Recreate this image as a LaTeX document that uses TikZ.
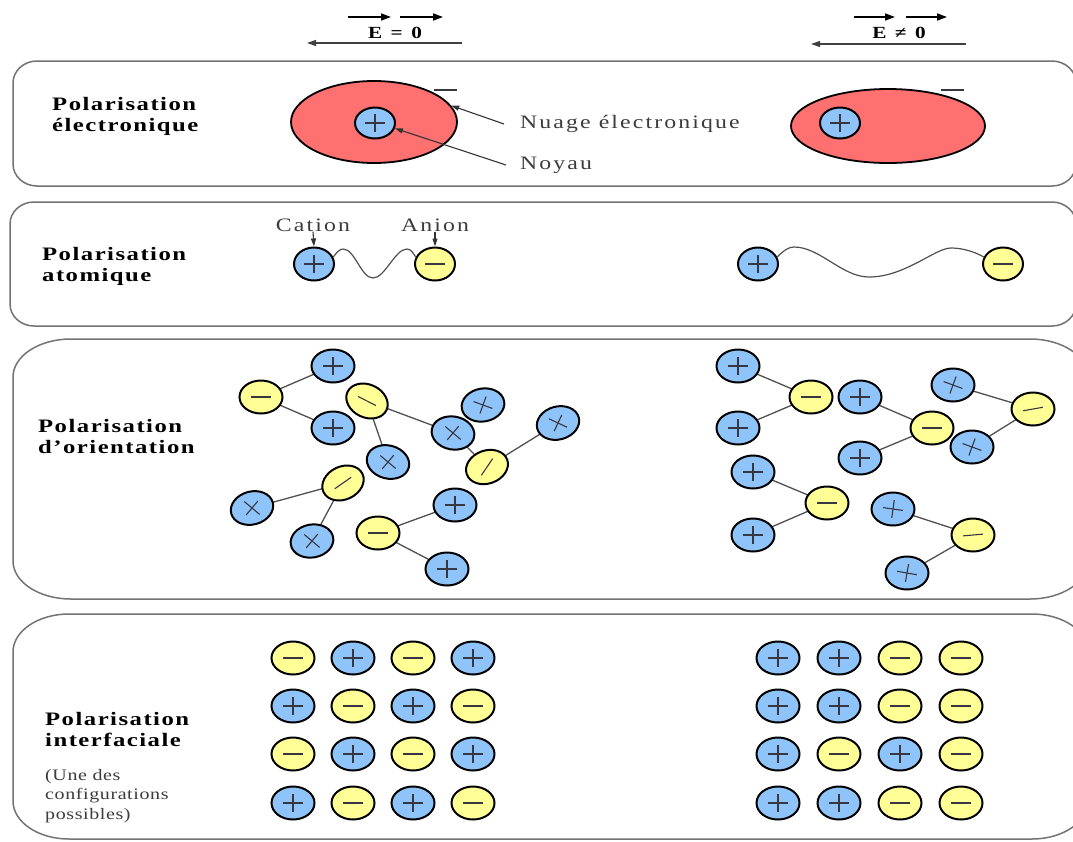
\documentclass[tikz,border=0pt]{standalone}
\usepackage{graphicx}
\usepackage{fontspec}
\setmainfont{Liberation Serif}
\newfontfamily\lblfont[LetterSpace=6]{Liberation Serif}
\newfontfamily\txtfont[LetterSpace=9]{Liberation Serif}
\newfontfamily\notefont[LetterSpace=3]{Liberation Serif}
\newfontfamily\hdrfont[LetterSpace=15]{Liberation Serif}
\usetikzlibrary{shapes.geometric,arrows.meta,backgrounds}
\newcommand\wide[1]{\scalebox{1.25}[1]{#1}}
\newcommand\widel[1]{\scalebox{1.3}[1]{#1}}
\definecolor{blueC}{RGB}{143,196,250}
\definecolor{yellowC}{RGB}{255,255,150}
\definecolor{redC}{RGB}{255,112,112}
\definecolor{signC}{RGB}{55,55,65}
\definecolor{bondC}{RGB}{80,80,80}
\definecolor{panelC}{RGB}{115,115,115}
\definecolor{txtC}{RGB}{60,60,60}
\tikzset{
  x=1pt, y=-1pt,
  posion/.style={ellipse, draw=black, line width=2pt, fill=blueC, inner sep=0pt, minimum width=43pt, minimum height=33pt},
  negion/.style={ellipse, draw=black, line width=2pt, fill=yellowC, inner sep=0pt, minimum width=43pt, minimum height=33pt},
  cloud/.style={ellipse, draw=black, line width=1.8pt, fill=redC, inner sep=0pt},
  signline/.style={draw=signC, line width=1.1pt},
  bond/.style={draw=bondC, line width=1.3pt},
  spring/.style={draw=bondC, line width=1.2pt},
  panelline/.style={draw=panelC, line width=1.5pt},
  lbl/.style={anchor=west, align=left, inner sep=0pt, text=black, font=\lblfont\bfseries\fontsize{19}{21}\selectfont},
  txt/.style={inner sep=0pt, text=txtC, font=\txtfont\fontsize{19}{22}\selectfont},
  note/.style={anchor=west, align=left, inner sep=0pt, text=txtC, font=\notefont\fontsize{16}{19.5}\selectfont},
  hdr/.style={inner sep=0pt, text=black, font=\hdrfont\bfseries\fontsize{17}{20}\selectfont},
  overarrow/.style={draw=black, line width=1.6pt, -{Triangle[length=10pt,width=7pt]}},
  longarrow/.style={draw=black!75, line width=1.2pt, -{Triangle[length=9pt,width=6pt]}},
  pointer/.style={draw=black!80, line width=1.1pt, -{Triangle[length=8pt,width=5pt]}},
}
% name, x, y, ellipse tilt (cw), sign tilt (cw)
\newcommand\ionP[6][]{%
  \node[posion,#1,rotate=-(#5)] (#2) at (#3,#4) {};
  \draw[signline] (#2.center) ++(#6:10) -- ++(#6+180:20);
  \draw[signline] (#2.center) ++(#6+90:9) -- ++(#6+270:18);}
\newcommand\ionM[6][]{%
  \node[negion,#1,rotate=-(#5)] (#2) at (#3,#4) {};
  \draw[signline] (#2.center) ++(#6:10) -- ++(#6+180:20);}
\newcommand\panel[6]{%
  \draw[panelline] (#1+#5,#2) -- (#3-#5,#2)
    arc[start angle=270,end angle=360,x radius=#5,y radius=#6] -- (#3,#4-#6)
    arc[start angle=0,end angle=90,x radius=#5,y radius=#6] -- (#1+#5,#4)
    arc[start angle=90,end angle=180,x radius=#5,y radius=#6] -- (#1,#2+#6)
    arc[start angle=180,end angle=270,x radius=#5,y radius=#6] -- cycle;}
\begin{document}
\begin{tikzpicture}
\useasboundingbox (0,0) rectangle (1073,841);
\begin{pgfonlayer}{background}
\fill[white] (0,0) rectangle (1073,841);
\end{pgfonlayer}
\clip (0,0) rectangle (1073,841);

% ---------- header ----------
\coordinate (oa1s) at (348,17); \coordinate (oa1e) at (391,17);
\coordinate (oa2s) at (400,17); \coordinate (oa2e) at (443,17);
\draw[overarrow] (oa1s) -- (oa1e);
\draw[overarrow] (oa2s) -- (oa2e);
\node[hdr] (eL) at (395,33) {\wide{E = 0}};
\coordinate (laS) at (462,43); \coordinate (laE) at (307,43);
\draw[longarrow] (laS) -- (laE);

\coordinate (ob1s) at (854,17); \coordinate (ob1e) at (895,17);
\coordinate (ob2s) at (906,17); \coordinate (ob2e) at (947,17);
\draw[overarrow] (ob1s) -- (ob1e);
\draw[overarrow] (ob2s) -- (ob2e);
\node[hdr] (eR) at (899,33) {\wide{E ≠ 0}};
\coordinate (lbS) at (966,44); \coordinate (lbE) at (811,44);
\draw[longarrow] (lbS) -- (lbE);

% ---------- panels ----------
\panel{13}{61}{1076}{186}{24}{22}
\panel{10}{202}{1076}{326}{24}{22}
\panel{13}{339}{1088}{599}{58}{38}
\panel{13}{614}{1088}{839}{56}{38}

% ---------- panel 1 ----------
\node[lbl] (lab1) at (52,116.5) {\widel{Polarisation}\\\widel{électronique}};
\node[cloud, minimum width=166pt, minimum height=82pt] (cloudL) at (374,122) {};
\ionP[minimum width=40pt, minimum height=31pt]{nucL}{375}{123}{0}{0}
\draw[signline] (434,90) -- (457,90);
\node[txt, anchor=west] (nuage) at (520,124) {\wide{Nuage électronique}};
\node[txt, anchor=west] (noyau) at (520,165) {\wide{Noyau}};
\draw[pointer] ([xshift=-16pt]nuage.west) -- (cloudL.12);
\draw[pointer] ([xshift=-14pt]noyau.west) -- (nucL.-15);

\node[cloud, minimum width=194pt, minimum height=74pt] (cloudR) at (888,126) {};
\ionP[minimum width=40pt, minimum height=31pt]{nucR}{840}{123}{0}{0}
\draw[signline] (941,90) -- (964,90);

% ---------- panel 2 ----------
\node[lbl] (lab2) at (42,266.5) {\widel{Polarisation}\\\widel{atomique}};
\ionP[minimum width=40pt, minimum height=33pt]{catL}{314}{264}{0}{0}
\ionM[minimum width=40pt, minimum height=33pt]{anL}{435}{264}{0}{0}
\node[txt] (cation) at (313,225) {\wide{Cation}};
\node[txt] (anion) at (435,225) {\wide{Anion}};
\draw[pointer] (cation.south) -- (catL.north);
\draw[pointer] (anion.south) -- (anL.north);
\draw[spring] (catL.20) .. controls (337,252) and (340,249) .. (343,249)
  .. controls (355,249) and (361,278) .. (373,278)
  .. controls (385,278) and (395,249) .. (407,249)
  .. controls (411,249) and (413,253) .. (anL.160);

\ionP[minimum width=40pt, minimum height=33pt]{catR}{758}{264}{0}{0}
\ionM[minimum width=40pt, minimum height=33pt]{anR}{1003}{264}{0}{0}
\draw[spring] (catR.20) .. controls (784,250) and (789,247) .. (794,247)
  .. controls (820,247) and (842,277) .. (869,277)
  .. controls (905,277) and (935,248) .. (951,248)
  .. controls (963,248) and (975,252) .. (anR.160);

% ---------- panel 3 ----------
\node[lbl] (lab3) at (38,436) {\widel{Polarisation}\\\widel{d’orientation}};
\ionP{A1}{333}{366}{0}{0}
\ionM{A2}{261}{397}{0}{0}
\ionP{A3}{333}{428}{0}{0}
\ionM{B}{367}{401}{25}{27}
\ionP{C}{388}{462}{15}{40}
\ionP{E}{483}{405}{-10}{20}
\ionP{D}{453}{433}{10}{40}
\ionM{F}{487}{467}{-20}{-56}
\ionP{G}{558}{423}{-15}{25}
\ionM{H}{343}{483}{-25}{-35}
\ionP{I}{252}{508}{-15}{40}
\ionP{J}{312}{541}{-10}{40}
\ionM{K}{378}{533}{0}{0}
\ionP{L}{455}{505}{0}{0}
\ionP{M}{447}{569}{0}{0}

\ionP{R1}{738}{366}{0}{0}
\ionM{R2}{811}{397}{0}{0}
\ionP{R3}{738}{428}{0}{0}
\ionP{R4}{860}{397}{0}{0}
\ionM{R5}{932}{428}{0}{0}
\ionP{R6}{860}{458}{0}{0}
\ionP{R7}{953}{385}{0}{20}
\ionM{R8}{1033}{409}{0}{-10}
\ionP{R9}{972}{447}{0}{20}
\ionP{R10}{753}{472}{0}{0}
\ionM{R11}{827}{503}{0}{0}
\ionP{R12}{753}{535}{0}{0}
\ionP{R13}{893}{509}{0}{8}
\ionM{R14}{973}{535}{0}{-5}
\ionP{R15}{907}{573}{0}{10}

\begin{pgfonlayer}{background}
\foreach \a/\b in {A2/A1,A2/A3,B/C,B/D,D/F,F/G,H/I,H/J,K/L,K/M,
                   R2/R1,R2/R3,R5/R4,R5/R6,R8/R7,R8/R9,R11/R10,R11/R12,R14/R13,R14/R15}
  \draw[bond] (\a.center) -- (\b.center);
\end{pgfonlayer}

% ---------- panel 4 ----------
\node[lbl] (lab4) at (45,729.5) {\widel{Polarisation}\\\widel{interfaciale}};
\node[note] (note4) at (45,796) {\wide{(Une des}\\\wide{configurations}\\\wide{possibles)}};

\ionM{g11}{293}{658}{0}{0} \ionP{g12}{353}{658}{0}{0} \ionM{g13}{413}{658}{0}{0} \ionP{g14}{473}{658}{0}{0}
\ionP{g21}{293}{706}{0}{0} \ionM{g22}{353}{706}{0}{0} \ionP{g23}{413}{706}{0}{0} \ionM{g24}{473}{706}{0}{0}
\ionM{g31}{293}{754}{0}{0} \ionP{g32}{353}{754}{0}{0} \ionM{g33}{413}{754}{0}{0} \ionP{g34}{473}{754}{0}{0}
\ionP{g41}{293}{803}{0}{0} \ionM{g42}{353}{803}{0}{0} \ionP{g43}{413}{803}{0}{0} \ionM{g44}{473}{803}{0}{0}

\ionP{h11}{778}{658}{0}{0} \ionP{h12}{839}{658}{0}{0} \ionM{h13}{900}{658}{0}{0} \ionM{h14}{961}{658}{0}{0}
\ionP{h21}{778}{706}{0}{0} \ionP{h22}{839}{706}{0}{0} \ionM{h23}{900}{706}{0}{0} \ionM{h24}{961}{706}{0}{0}
\ionP{h31}{778}{754}{0}{0} \ionM{h32}{839}{754}{0}{0} \ionP{h33}{900}{754}{0}{0} \ionM{h34}{961}{754}{0}{0}
\ionP{h41}{778}{803}{0}{0} \ionP{h42}{839}{803}{0}{0} \ionM{h43}{900}{803}{0}{0} \ionM{h44}{961}{803}{0}{0}
\end{tikzpicture}
\end{document}
